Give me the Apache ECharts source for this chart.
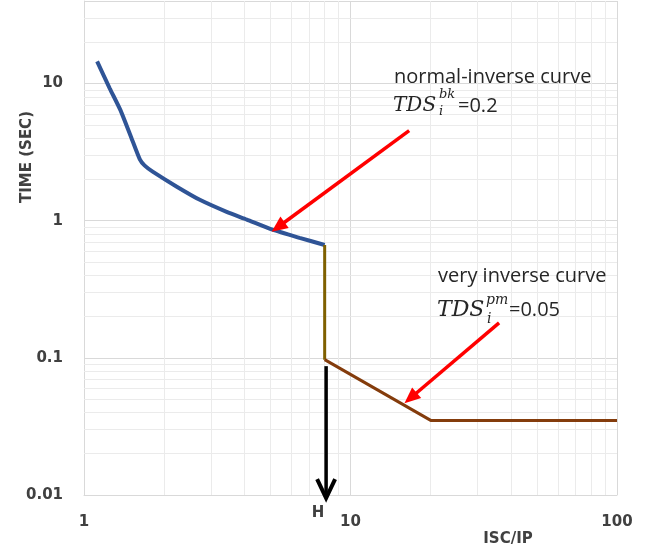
<!DOCTYPE html>
<html>
<head>
<meta charset="utf-8">
<script src="https://cdn.jsdelivr.net/npm/echarts@6/dist/echarts.min.js"></script>
<style>html,body{margin:0;padding:0;background:#fff}#c{width:660px;height:552px}</style>
</head>
<body>
<div id="c"></div>
<script>
// ---- data ----
var blueX = [1.12, 1.25, 1.37, 1.5, 1.62, 1.69, 1.81, 2.23, 2.72, 3.43, 4.08, 5.1, 6.44, 8.0];
var blueY = [14.5, 9.2, 6.4, 4.1, 2.8, 2.52, 2.28, 1.77, 1.42, 1.16, 1.02, 0.86, 0.75, 0.665];
var stepX = [8.0, 8.0];
var stepY = [0.665, 0.097];
var brownX = [8.0, 20, 100];
var brownY = [0.097, 0.035, 0.035];
var minorX = [2, 3, 4, 5, 6, 7, 8, 9, 20, 30, 40, 50, 60, 70, 80, 90];
var minorY = [0.02, 0.03, 0.04, 0.05, 0.06, 0.07, 0.08, 0.09, 0.2, 0.3, 0.4, 0.5, 0.6, 0.7, 0.8, 0.9, 2, 3, 4, 5, 6, 7, 8, 9, 20, 30];
var arrow1 = [[16.6, 4.54], [5.35, 0.9]];
var arrow2 = [[36.1, 0.18], [16.8, 0.051]];
var arrowH = [[8.1, 0.087], [8.1, 0.0095]];
var xName = 'ISC/IP', yName = 'TIME (SEC)', hLabel = 'H';

function zip(a, b) { return a.map(function (v, i) { return [v, b[i]]; }); }

var chart = echarts.init(document.getElementById('c'));
var labelFont = { fontFamily: 'DejaVu Sans', fontWeight: 'bold', fontSize: 15, color: '#404040' };
var gridMinor = [];
minorX.forEach(function (v) { gridMinor.push({ xAxis: v }); });
minorY.forEach(function (v) { gridMinor.push({ yAxis: v }); });

var txt = '#262626';
var graphics = [
  { id: 'yn', type: 'text', z: 10, x: 27, y: 157, rotation: Math.PI / 2, style: { text: yName, font: 'bold 15px "DejaVu Sans"', fill: '#404040', textAlign: 'center', textVerticalAlign: 'middle' } },
  { id: 'xn', type: 'text', z: 10, x: 508, y: 539, style: { text: xName, font: 'bold 15px "DejaVu Sans"', fill: '#404040', textAlign: 'center', textVerticalAlign: 'middle' } },

  { id: 'a1', type: 'text', z: 10, x: 394, y: 77, style: { text: 'normal-inverse curve', font: '20px "Open Sans"', fill: txt, textVerticalAlign: 'middle' } },
  { id: 'a2', type: 'text', z: 10, x: 393, y: 106, style: { text: 'TDS', font: 'italic 20px "DejaVu Serif"', fill: txt, textVerticalAlign: 'middle' } },
  { id: 'a3', type: 'text', z: 10, x: 439, y: 95, style: { text: 'bk', font: 'italic 13px "DejaVu Serif"', fill: txt, textVerticalAlign: 'middle' } },
  { id: 'a4', type: 'text', z: 10, x: 439, y: 112, style: { text: 'i', font: 'italic 13px "DejaVu Serif"', fill: txt, textVerticalAlign: 'middle' } },
  { id: 'a5', type: 'text', z: 10, x: 458, y: 106, style: { text: '=0.2', font: '20px "Open Sans"', fill: txt, textVerticalAlign: 'middle' } },

  { id: 'b1', type: 'text', z: 10, x: 438, y: 276, style: { text: 'very inverse curve', font: '20px "Open Sans"', fill: txt, textVerticalAlign: 'middle' } },
  { id: 'b2', type: 'text', z: 10, x: 437, y: 310, style: { text: 'TDS', font: 'italic 22px "DejaVu Serif"', fill: txt, textVerticalAlign: 'middle' } },
  { id: 'b3', type: 'text', z: 10, x: 486, y: 300, style: { text: 'pm', font: 'italic 14px "DejaVu Serif"', fill: txt, textVerticalAlign: 'middle' } },
  { id: 'b4', type: 'text', z: 10, x: 487, y: 319, style: { text: 'i', font: 'italic 14px "DejaVu Serif"', fill: txt, textVerticalAlign: 'middle' } },
  { id: 'b5', type: 'text', z: 10, x: 509, y: 310, style: { text: '=0.05', font: '20px "Open Sans"', fill: txt, textVerticalAlign: 'middle' } }
];

chart.setOption({
  animation: false,
  backgroundColor: '#fff',
  grid: { left: 84, right: 43, top: 1, bottom: 57 },
  xAxis: {
    type: 'log', logBase: 10, min: 1, max: 100,
    axisLine: { lineStyle: { color: '#d9d9d9', width: 1 } },
    axisTick: { show: false },
    axisLabel: Object.assign({ margin: 20 }, labelFont),
    splitLine: { show: true, lineStyle: { color: '#d9d9d9', width: 1 } }
  },
  yAxis: {
    type: 'log', logBase: 10, min: 0.01, max: 40,
    axisLine: { show: true, lineStyle: { color: '#d9d9d9', width: 1 } },
    axisTick: { show: false },
    axisLabel: Object.assign({ margin: 21, showMaxLabel: false }, labelFont),
    splitLine: { show: true, lineStyle: { color: '#d9d9d9', width: 1 } }
  },
  series: [
    {
      type: 'line', data: [], z: 1, silent: true,
      markLine: {
        z: 1, silent: true, symbol: ['none', 'none'], animation: false,
        label: { show: false },
        lineStyle: { color: '#ebebeb', width: 1, type: 'solid' },
        data: gridMinor
      }
    },
    {
      type: 'line', data: zip(blueX, blueY), z: 3, showSymbol: false, smooth: 0.2,
      lineStyle: { color: '#2f5496', width: 4 }
    },
    {
      type: 'line', data: zip(stepX, stepY), z: 3, showSymbol: false,
      lineStyle: { color: '#7f6000', width: 3 }
    },
    {
      type: 'line', data: zip(brownX, brownY), z: 3, showSymbol: false,
      lineStyle: { color: '#843c0c', width: 3 }
    },
    {
      type: 'line', data: [], z: 4, silent: true,
      markLine: {
        z: 6, silent: true, animation: false,
        symbol: ['none', 'triangle'], symbolSize: [14, 16],
        label: { show: false },
        lineStyle: { color: '#ff0000', width: 3.5, type: 'solid' },
        data: [
          [{ coord: arrow1[0] }, { coord: arrow1[1] }],
          [{ coord: arrow2[0] }, { coord: arrow2[1] }]
        ]
      }
    }
  ],
  graphic: graphics
});

// black arrow at H, placed through the axes' own conversion
var p0 = chart.convertToPixel({ gridIndex: 0 }, arrowH[0]);
var p1 = chart.convertToPixel({ gridIndex: 0 }, arrowH[1]);
chart.setOption({
  graphic: graphics.concat([
    { id: 'hl', type: 'line', z: 8, shape: { x1: p0[0], y1: p0[1], x2: p1[0], y2: p1[1] - 2 }, style: { stroke: '#000', lineWidth: 3.5 } },
    { id: 'hc', type: 'polyline', z: 8, shape: { points: [[p1[0] - 9, p1[1] - 19], [p1[0], p1[1]], [p1[0] + 9, p1[1] - 19]] }, style: { stroke: '#000', lineWidth: 4, fill: null, lineJoin: 'miter' } },
    { id: 'ht', type: 'text', z: 10, x: p1[0] - 8, y: p1[1] + 15, style: { text: hLabel, font: 'bold 15px "DejaVu Sans"', fill: '#404040', textAlign: 'center', textVerticalAlign: 'middle' } }
  ])
});
</script>
</body>
</html>
